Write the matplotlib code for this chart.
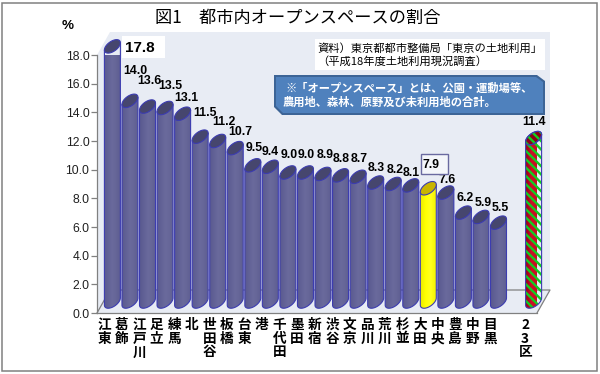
import matplotlib
matplotlib.use('Agg')
import matplotlib.pyplot as plt
import numpy as np
from matplotlib.colors import LinearSegmentedColormap
from matplotlib.patches import Polygon, Rectangle

plt.rcParams['font.family'] = ['Noto Sans CJK JP', 'DejaVu Sans']
plt.rcParams['hatch.linewidth'] = 1.7

# data
wards = ['江東', '葛飾', '江戸川', '足立', '練馬', '北', '世田谷', '板橋', '台東', '港', '千代田', '墨田',
         '新宿', '渋谷', '文京', '品川', '荒川', '杉並', '大田', '中央', '豊島', '中野', '目黒']
ward_values = [17.8, 14.0, 13.6, 13.5, 13.1, 11.5, 11.2, 10.7, 9.5, 9.4, 9.0, 9.0,
               8.9, 8.8, 8.7, 8.3, 8.2, 8.1, 7.9, 7.6, 6.2, 5.9, 5.5]
total_label = '23区'
total_value = 11.4
y_ticks = [0, 2, 4, 6, 8, 10, 12, 14, 16, 18]
y_tick_labels = ['0.0', '2.0', '4.0', '6.0', '8.0', '10.0', '12.0', '14.0', '16.0', '18.0']

# label nudges in pixels, relative to the top of each bar
label_dx = [25, 5, 2, 5, 4, 5, 6, 5, 1, 0, 1, 1, 2, 1, 1, 1, 2, 0, 14, 1, 2, 2, 2]
label_dy = [0, 30, 26, 22, 16, 24, 19, 16, 17, 15, 18, 18, 19, 16, 18, 14.5, 14, 12, 18, 12.6, 14.6, 14, 15]

W, H = 600, 374
PX_X = 1 / 17.55   # one pixel in category units
PX_Y = 18 / 258    # one pixel in value units
DEPTH_X = 13 * PX_X
DEPTH_Y = 23 * PX_Y
SHIFT_X = 8.4 * PX_X
SHIFT_Y = 11.5 * PX_Y
RX = 8.0
RY = 5.7
SHEAR = 3.6
EDGE = '#3c3cb0'


def fx(px):
    return px / W


def fy(py):
    return 1 - py / H


def draw_bar(ax, x, value, colors, top_color, hatch=None):
    # the ends are sheared ellipses, worked out in data units
    t = np.linspace(0, 2 * np.pi, 80)
    ex = x + SHIFT_X + RX * PX_X * np.cos(t)
    ey = SHIFT_Y + (RY * np.sin(t) + SHEAR * np.cos(t)) * PX_Y
    etop = ey + value
    left, right = x + SHIFT_X - RX * PX_X, x + SHIFT_X + RX * PX_X
    # body: the lower half of the bottom ellipse, closed up to the top ellipse
    lt = np.linspace(np.pi, 2 * np.pi, 40)
    low_x = x + SHIFT_X + RX * PX_X * np.cos(lt)
    low_y = SHIFT_Y + (RY * np.sin(lt) + SHEAR * np.cos(lt)) * PX_Y
    body_x = np.r_[low_x, right, left]
    body_y = np.r_[low_y, value + SHIFT_Y + SHEAR * PX_Y, value + SHIFT_Y - SHEAR * PX_Y]
    body = np.c_[body_x, body_y]
    clip = Polygon(body, closed=True, fc='none', ec='none', clip_on=False, zorder=3)
    ax.add_patch(clip)
    cmap = LinearSegmentedColormap.from_list('bar', colors)
    im = ax.imshow(np.linspace(0, 1, 32)[None, :], cmap=cmap, aspect='auto', zorder=3,
                   extent=[left, right, 0, value + 2])
    im.set_clip_path(clip)
    if hatch:
        ax.add_patch(Polygon(body, closed=True, fc='none', ec='#10d020', hatch=hatch,
                             lw=0, clip_on=False, zorder=3.1))
    ax.add_patch(Polygon(body, closed=True, fc='none', ec=EDGE, lw=0.8, clip_on=False, zorder=3.2))
    ax.add_patch(Polygon(np.c_[ex, etop], closed=True, fc=top_color, ec=EDGE, lw=0.8,
                         clip_on=False, zorder=3.3))
    if hatch:
        ax.add_patch(Polygon(np.c_[ex, etop], closed=True, fc='none', ec='#10d020', hatch=hatch,
                             lw=0, clip_on=False, zorder=3.4))
        ax.add_patch(Polygon(np.c_[ex, etop], closed=True, fc='none', ec=EDGE, lw=0.8,
                             clip_on=False, zorder=3.5))


fig = plt.figure(figsize=(W / 100, H / 100), dpi=100, facecolor='white')
ax = fig.add_axes([fx(97), fy(313), 440 / W, 258 / H], facecolor='none')

x_min, x_max = -7 * PX_X, 433 * PX_X

# walls and floor
ax.fill([x_min, x_min, x_min + DEPTH_X, x_max + DEPTH_X, x_max + DEPTH_X, x_max],
        [0, 18, 18 + DEPTH_Y, 18 + DEPTH_Y, DEPTH_Y, 0], color='#e8ecf4', lw=0, clip_on=False, zorder=0)
ax.plot([x_min, x_min + DEPTH_X, x_max + DEPTH_X, x_max], [0, DEPTH_Y, DEPTH_Y, 0],
        color='#808080', lw=0.9, clip_on=False, zorder=1)

body_colors = ['#5a5a90', '#626296', '#6a6a9c', '#666698', '#5e5e92']
for i, value in enumerate(ward_values):
    if i == 18:
        draw_bar(ax, i, value, ['#e8e800', '#ffff00', '#ffff20', '#f4f400'], '#c8b400')
    else:
        draw_bar(ax, i, value, body_colors, '#46466e')
total_x = len(wards) + 1
draw_bar(ax, total_x, total_value, ['#a00018', '#cc1028', '#c80c24', '#980018'], '#8c0018', hatch='\\\\\\\\')

# value labels
for i, value in enumerate(ward_values):
    if i == 0 or i == 18:
        continue
    ax.text(i + SHIFT_X + label_dx[i] * PX_X, value + SHIFT_Y + label_dy[i] * PX_Y, f'{value:.1f}',
            family='Liberation Sans', weight='bold', fontsize=8.8, ha='center', va='center', zorder=5)
ax.text(total_x + SHIFT_X, total_value + SHIFT_Y + 16 * PX_Y, f'{total_value:.1f}',
        family='Liberation Sans', weight='bold', fontsize=8.8, ha='center', va='center', zorder=5)

ax.set_xticks(list(range(len(wards))) + [total_x])
ax.set_xticklabels(['\n'.join(w) for w in wards] + ['\n'.join(total_label)],
                   fontsize=9.8, weight='bold', linespacing=0.98, va='top')
ax.tick_params(axis='x', length=0, pad=3.5)
ax.set_yticks(y_ticks)
ax.set_yticklabels(y_tick_labels, family='Liberation Sans', fontsize=8.7, color='#202020')
ax.tick_params(axis='y', length=4, width=0.9, color='#808080', pad=1.5)
for side in ['top', 'right']:
    ax.spines[side].set_visible(False)
for side in ['left', 'bottom']:
    ax.spines[side].set_color('#808080')
    ax.spines[side].set_linewidth(0.9)
ax.set_xlim(x_min, x_max)
ax.set_ylim(0, 18)

# boxed labels sit on the figure, like the other text boxes
fig.add_artist(Rectangle((fx(122), fy(58)), 43 / W, 22 / H, transform=fig.transFigure, fc='white', ec='none'))
fig.text(fx(139.5), fy(48), f'{ward_values[0]:.1f}', family='Liberation Sans', weight='bold', fontsize=11,
         ha='center', va='center')
fig.add_artist(Rectangle((fx(420.5), fy(174)), 27 / W, 20 / H, transform=fig.transFigure, fc='#f4f6fa',
                         ec='#6a6aa0', lw=1))
fig.text(fx(431), fy(164.5), f'{ward_values[18]:.1f}', family='Liberation Sans', weight='bold', fontsize=8.8,
         ha='center', va='center')

# source note
fig.add_artist(Rectangle((fx(315), fy(70)), 230 / W, 31 / H, transform=fig.transFigure, fc='white', ec='none'))
fig.text(fx(317), fy(48), '資料）東京都都市整備局「東京の土地利用」', fontsize=8.1, ha='left', va='center')
fig.text(fx(317), fy(61), '（平成18年度土地利用現況調査）', fontsize=8.1, ha='left', va='center')

# callout
outer = [(274, 75), (537, 75), (545, 81), (545, 115), (282, 115), (274, 107)]
inner = [(276, 77), (536, 77), (543, 82), (543, 113), (283, 113), (276, 106)]
fig.add_artist(Polygon([(fx(a), fy(b)) for a, b in outer], transform=fig.transFigure, fc='#3c6496', ec='none'))
fig.add_artist(Polygon([(fx(a), fy(b)) for a, b in inner], transform=fig.transFigure, fc='#4f81bd', ec='none'))
fig.text(fx(285), fy(88), '※「オープンスペース」とは、公園・運動場等、', color='white', weight='bold', fontsize=8.1,
         ha='left', va='center')
fig.text(fx(283), fy(102), '農用地、森林、原野及び未利用地の合計。', color='white', weight='bold', fontsize=8.1,
         ha='left', va='center')

fig.text(fx(298), fy(17.5), '図1　都市内オープンスペースの割合', fontsize=12.4, ha='center', va='center')
fig.text(fx(68), fy(26), '%', family='Liberation Sans', weight='bold', fontsize=9.7, ha='center', va='center')

# outer frame
fig.add_artist(Rectangle((fx(1.5), fy(371)), 595.5 / W, 368 / H, transform=fig.transFigure, fc='none',
                         ec='#808080', lw=1.1))

fig.savefig('out.png', dpi=100)
